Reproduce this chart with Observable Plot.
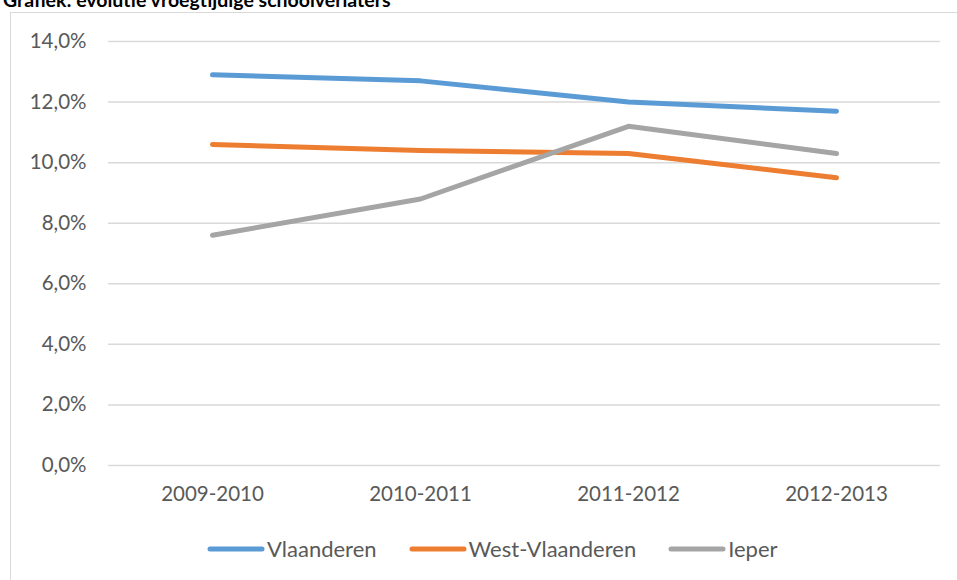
<!DOCTYPE html>
<html><head><meta charset="utf-8">
<script src="https://cdn.jsdelivr.net/npm/d3@7"></script>
<script src="https://cdn.jsdelivr.net/npm/@observablehq/plot@0.6"></script>
<style>
body{margin:0;background:#fff;overflow:hidden}
#wrap{position:relative;width:957px;height:580px;overflow:hidden;font-family:Lato,"Open Sans",sans-serif;background:#fff}
#box{position:absolute;left:10px;top:12px;width:1000px;height:700px;border-left:1.5px solid #d9d9d9;border-top:1.5px solid #d9d9d9;box-sizing:border-box}
#title{position:absolute;left:3px;top:-13px;font-weight:bold;font-size:19.5px;color:#000;white-space:nowrap;line-height:26px}
#chart{position:absolute;left:0;top:0}
#legend{position:absolute;top:535px;left:207px;display:flex;align-items:center;font-size:22px;color:#595959;line-height:28px}
#legend .item{display:flex;align-items:center;margin-right:32px}
#legend svg{margin-right:2px}
</style></head>
<body>
<div id="wrap">
  <div id="box"></div>
  <div id="title">Grafiek: evolutie vroegtijdige schoolverlaters</div>
  <div id="chart"></div>
  <div id="legend"></div>
</div>
<script>
const years = ["2009-2010", "2010-2011", "2011-2012", "2012-2013"];
const vlaanderen = [0.129, 0.127, 0.120, 0.117];
const westVlaanderen = [0.106, 0.104, 0.103, 0.095];
const ieper = [0.076, 0.088, 0.112, 0.103];
const seriesNames = ["Vlaanderen", "West-Vlaanderen", "Ieper"];
const seriesColors = ["#5B9BD5", "#ED7D31", "#A5A5A5"];
const yTicks = [0, 0.02, 0.04, 0.06, 0.08, 0.10, 0.12, 0.14];

const seriesValues = [vlaanderen, westVlaanderen, ieper];
const data = [];
seriesNames.forEach((s, i) => years.forEach((y, j) => data.push({series: s, year: y, value: seriesValues[i][j]})));

const fmt = d => (d * 100).toFixed(1).replace(".", ",") + "%";

const chart = Plot.plot({
  width: 957,
  height: 520,
  marginLeft: 108,
  marginRight: 17,
  marginTop: 41,
  marginBottom: 55,
  style: {fontFamily: "Lato, 'Open Sans', sans-serif", fontSize: "20.5px", color: "#595959", background: "transparent", overflow: "visible"},
  x: {type: "point", domain: years, padding: 0.5, label: null},
  y: {domain: [0, 0.14], label: null},
  color: {domain: seriesNames, range: seriesColors},
  marks: [
    Plot.ruleY(yTicks, {stroke: "#d9d9d9", strokeWidth: 1.5}),
    Plot.axisY({ticks: yTicks, tickSize: 0, tickPadding: 22, tickFormat: fmt, label: null}),
    Plot.axisX({tickSize: 0, tickPadding: 21, label: null}),
    Plot.lineY(data, {x: "year", y: "value", z: "series", stroke: "series", strokeWidth: 5, strokeLinecap: "round", strokeLinejoin: "round"})
  ]
});
document.getElementById("chart").appendChild(chart);

const legend = document.getElementById("legend");
seriesNames.forEach((s, i) => {
  const item = document.createElement("div");
  item.className = "item";
  item.innerHTML = `<svg width="58" height="10"><line x1="3" y1="5" x2="55" y2="5" stroke="${seriesColors[i]}" stroke-width="5" stroke-linecap="round"/></svg><span>${s}</span>`;
  legend.appendChild(item);
});
</script>
</body></html>
